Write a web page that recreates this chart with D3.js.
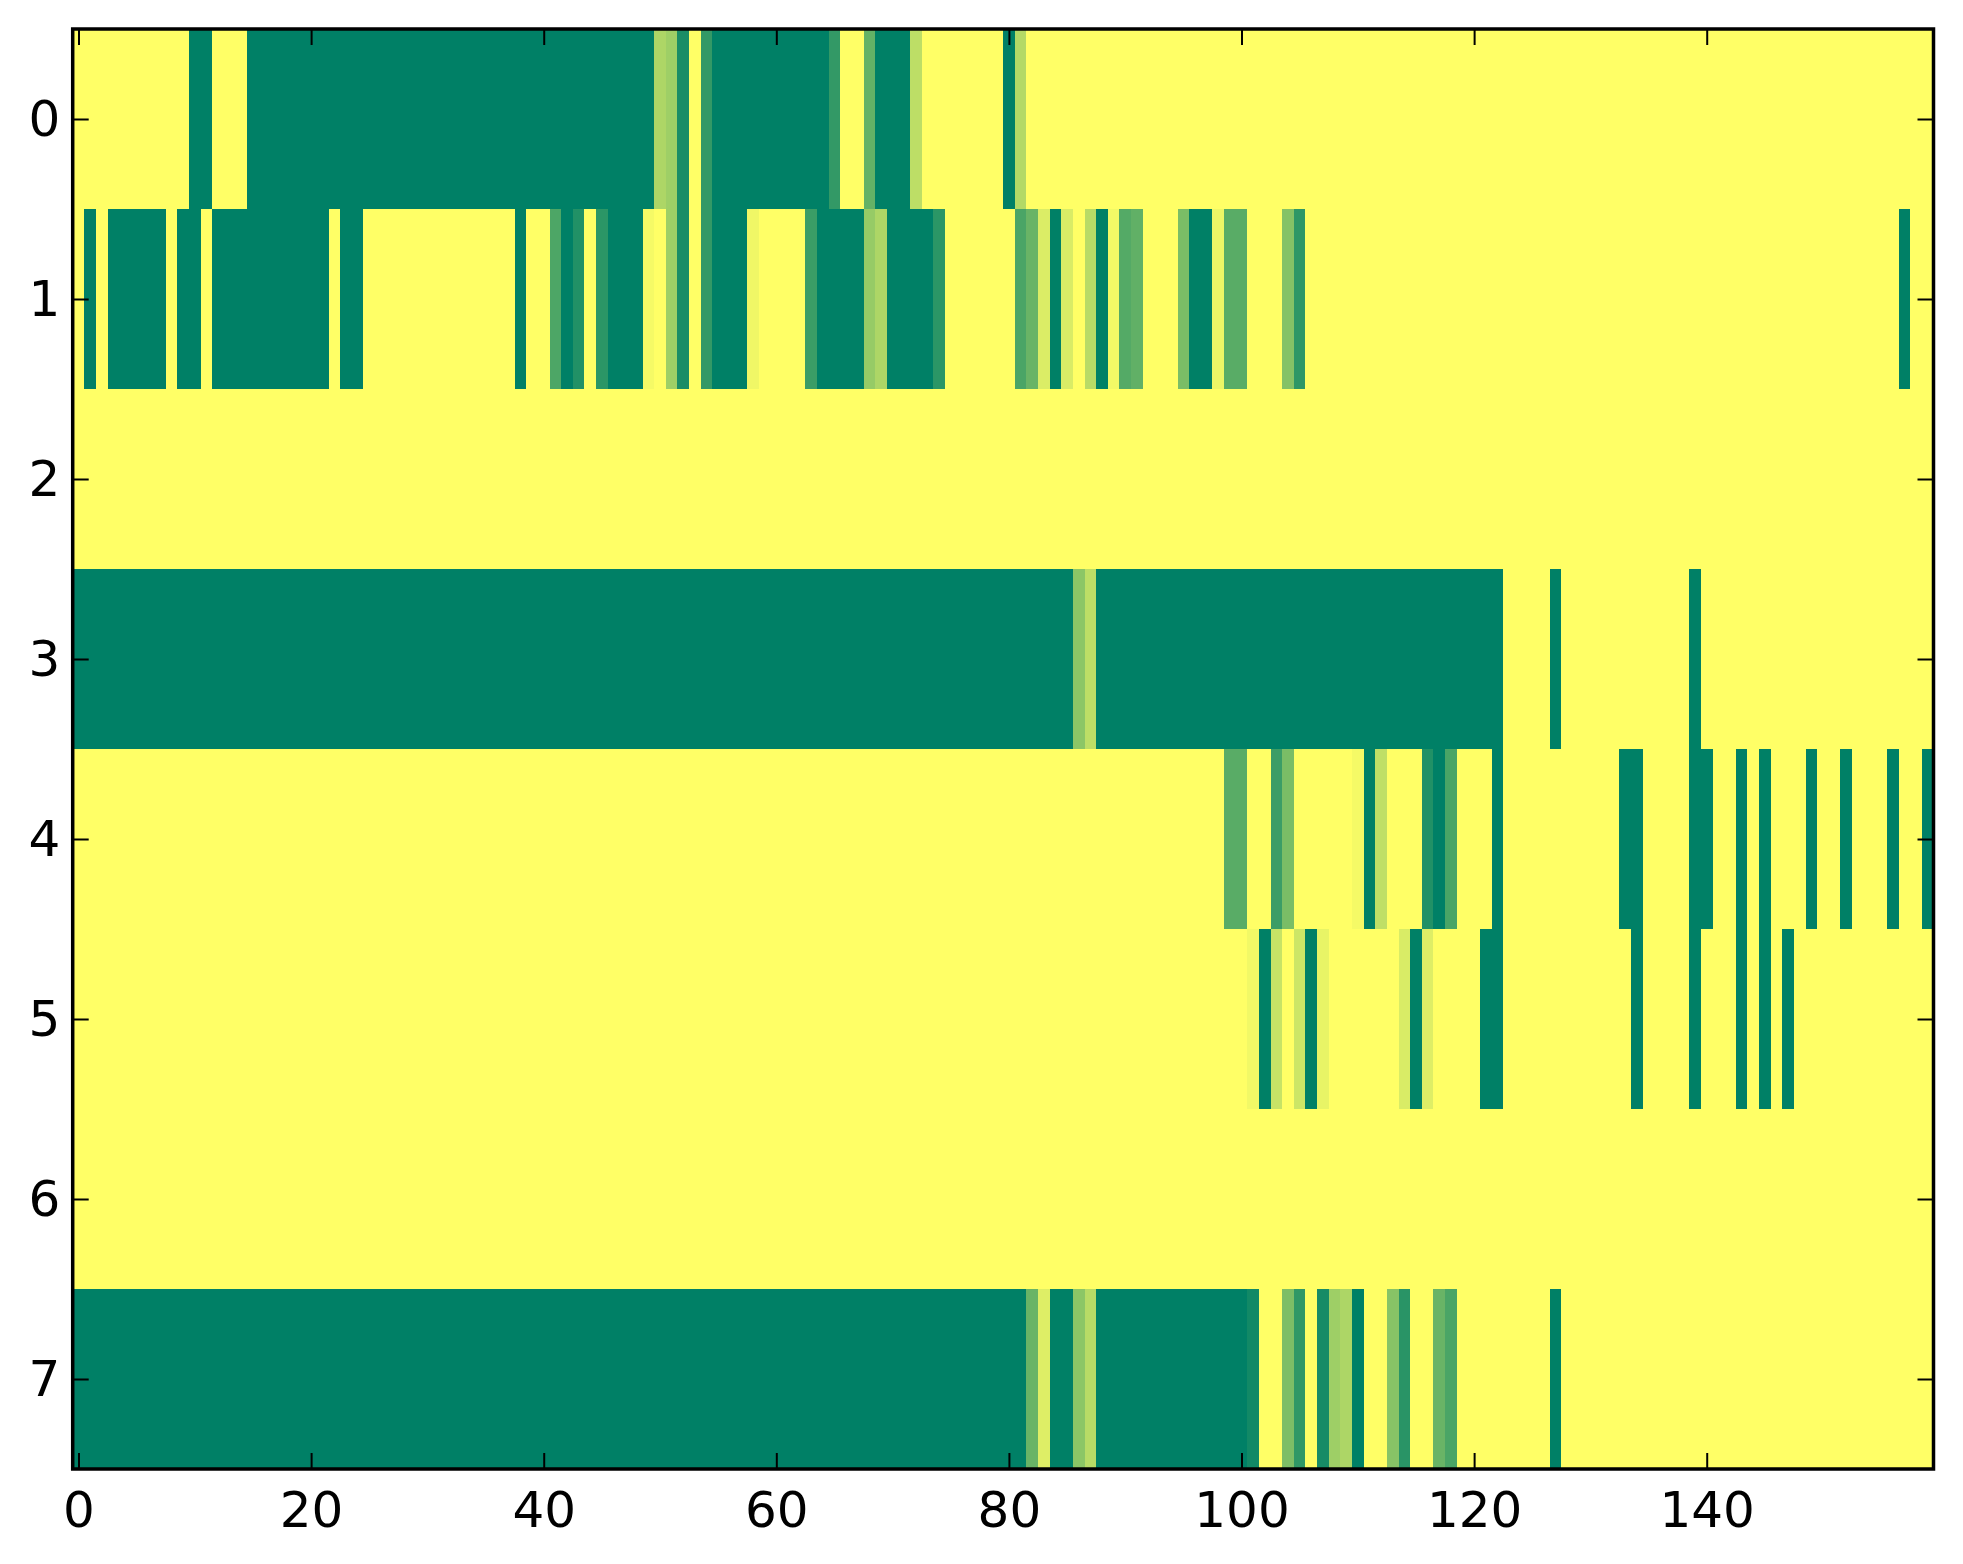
<!DOCTYPE html>
<html>
<head>
<meta charset="utf-8">
<script src="https://cdn.jsdelivr.net/npm/d3@7"></script>
<style>
  body { margin: 0; background: #fff; }
  svg { display: block; }
</style>
</head>
<body>
<svg class="heatmap" width="1963" height="1564"></svg>
<script>
var w = 1963;
var h = 1564;
var left = 72.7, right = 1933.5, top_ = 29, bottom = 1469;

var nCols = 160;
var rowLabels = [0, 1, 2, 3, 4, 5, 6, 7];
var xTicks = [0, 20, 40, 60, 80, 100, 120, 140];

// each row as runs of [value, count], value 0 = dark green, 1 = yellow
var row0 = [[1,10],[0,2],[1,3],[0,35],[0.68,1],[0.62,1],[0.10,1],[1,1],[0.2,1],[0,10],[0.2,1],[1,2],[0.39,1],[0,3],[0.74,1],[1,7],[0,1],[0.7,1],[1,78]];
var row1 = [[1,1],[0,1],[1,1],[0,5],[1,1],[0,2],[1,1],[0,10],[1,1],[0,2],[1,13],[0,1],[1,2],[0.3,1],[0,1],[0.13,1],[1,1],[0.17,1],[0,3],[0.96,1],[1,1],[0.62,1],[0.1,1],[1,1],[0.2,1],[0,3],[0.94,1],[1,4],[0.23,1],[0,4],[0.59,1],[0.68,1],[0,4],[0.17,1],[1,6],[0.29,1],[0.41,1],[0.86,1],[0,1],[0.85,1],[1,1],[0.72,1],[0,1],[0.95,1],[0.33,1],[0.38,1],[1,3],[0.48,1],[0,2],[0.93,1],[0.35,2],[1,3],[0.52,1],[0.18,1],[1,51],[0,1],[1,2]];
var row2 = [[1,160]];
var row3 = [[0,86],[0.55,1],[0.74,1],[0,35],[1,4],[0,1],[1,11],[0,1],[1,20]];
var row4 = [[1,99],[0.35,2],[1,2],[0.23,1],[0.48,1],[1,5],[0.96,1],[0,1],[0.75,1],[1,3],[0.13,1],[0,1],[0.29,1],[1,3],[0,1],[1,10],[0,2],[1,4],[0,2],[1,2],[0,1],[1,1],[0,1],[1,3],[0,1],[1,2],[0,1],[1,3],[0,1],[1,2],[0,1]];
var row5 = [[1,101],[0.95,1],[0,1],[0.78,1],[1,1],[0.8,1],[0,1],[0.91,1],[1,6],[0.85,1],[0,1],[0.87,1],[1,4],[0,2],[1,11],[0,1],[1,4],[0,1],[1,3],[0,1],[1,1],[0,1],[1,1],[0,1],[1,12]];
var row6 = [[1,160]];
var row7 = [[0,82],[0.41,1],[0.87,1],[0,2],[0.55,1],[0.72,1],[0,13],[0.07,1],[1,2],[0.49,1],[0.19,1],[1,1],[0.09,1],[0.62,1],[0.68,1],[0,1],[1,2],[0.53,1],[0.16,1],[1,2],[0.41,1],[0.29,1],[1,8],[0,1],[1,32]];

var rows = [row0, row1, row2, row3, row4, row5, row6, row7];

// unpack runs into cells
var cells = [];
rows.forEach(function (runs, r) {
  var c = 0;
  runs.forEach(function (run) {
    for (var k = 0; k < run[1]; k++) {
      cells.push({ row: r, col: c, value: run[0] });
      c++;
    }
  });
});

var canvas = d3.select(".heatmap");

var xScale = d3.scaleLinear().domain([-0.5, nCols - 0.5]).range([left, right]);
var yScale = d3.scaleLinear().domain([-0.5, rowLabels.length - 0.5]).range([top_, bottom]);
// matplotlib "summer"
var color = d3.scaleLinear().domain([0, 1]).range(["#008066", "#ffff66"]);

canvas
  .append("g")
  .selectAll("rect")
  .data(cells)
  .join("rect")
  .attr("x", (d) => xScale(d.col - 0.5))
  .attr("y", (d) => yScale(d.row - 0.5))
  .attr("width", (d) => xScale(d.col + 0.5) - xScale(d.col - 0.5) + 0.3)
  .attr("height", (d) => yScale(d.row + 0.5) - yScale(d.row - 0.5) + 0.3)
  .attr("fill", (d) => color(d.value))
  .attr("shape-rendering", "crispEdges");

var font = "'DejaVu Sans', sans-serif";

function styleAxis(g) {
  g.select(".domain").remove();
  g.selectAll(".tick line").attr("stroke", "#000").attr("stroke-width", 2);
  g.selectAll(".tick text")
    .attr("fill", "#000")
    .style("font-family", font)
    .style("font-size", "50px");
}

canvas
  .append("g")
  .attr("transform", "translate(0," + bottom + ")")
  .call(d3.axisBottom(xScale).tickValues(xTicks).tickSize(-16).tickPadding(22.5))
  .call(styleAxis);

canvas
  .append("g")
  .attr("transform", "translate(0," + top_ + ")")
  .call(d3.axisTop(xScale).tickValues(xTicks).tickSize(-16).tickFormat(""))
  .call(styleAxis);

canvas
  .append("g")
  .attr("transform", "translate(" + left + ",0)")
  .call(d3.axisLeft(yScale).tickValues(rowLabels).tickSize(-16).tickPadding(12.5))
  .call(styleAxis);

canvas
  .append("g")
  .attr("transform", "translate(" + right + ",0)")
  .call(d3.axisRight(yScale).tickValues(rowLabels).tickSize(-16).tickFormat(""))
  .call(styleAxis);

// frame
canvas
  .append("rect")
  .attr("x", left)
  .attr("y", top_)
  .attr("width", right - left)
  .attr("height", bottom - top_)
  .attr("fill", "none")
  .attr("stroke", "#000")
  .attr("stroke-width", 3.5);
</script>
</body>
</html>
